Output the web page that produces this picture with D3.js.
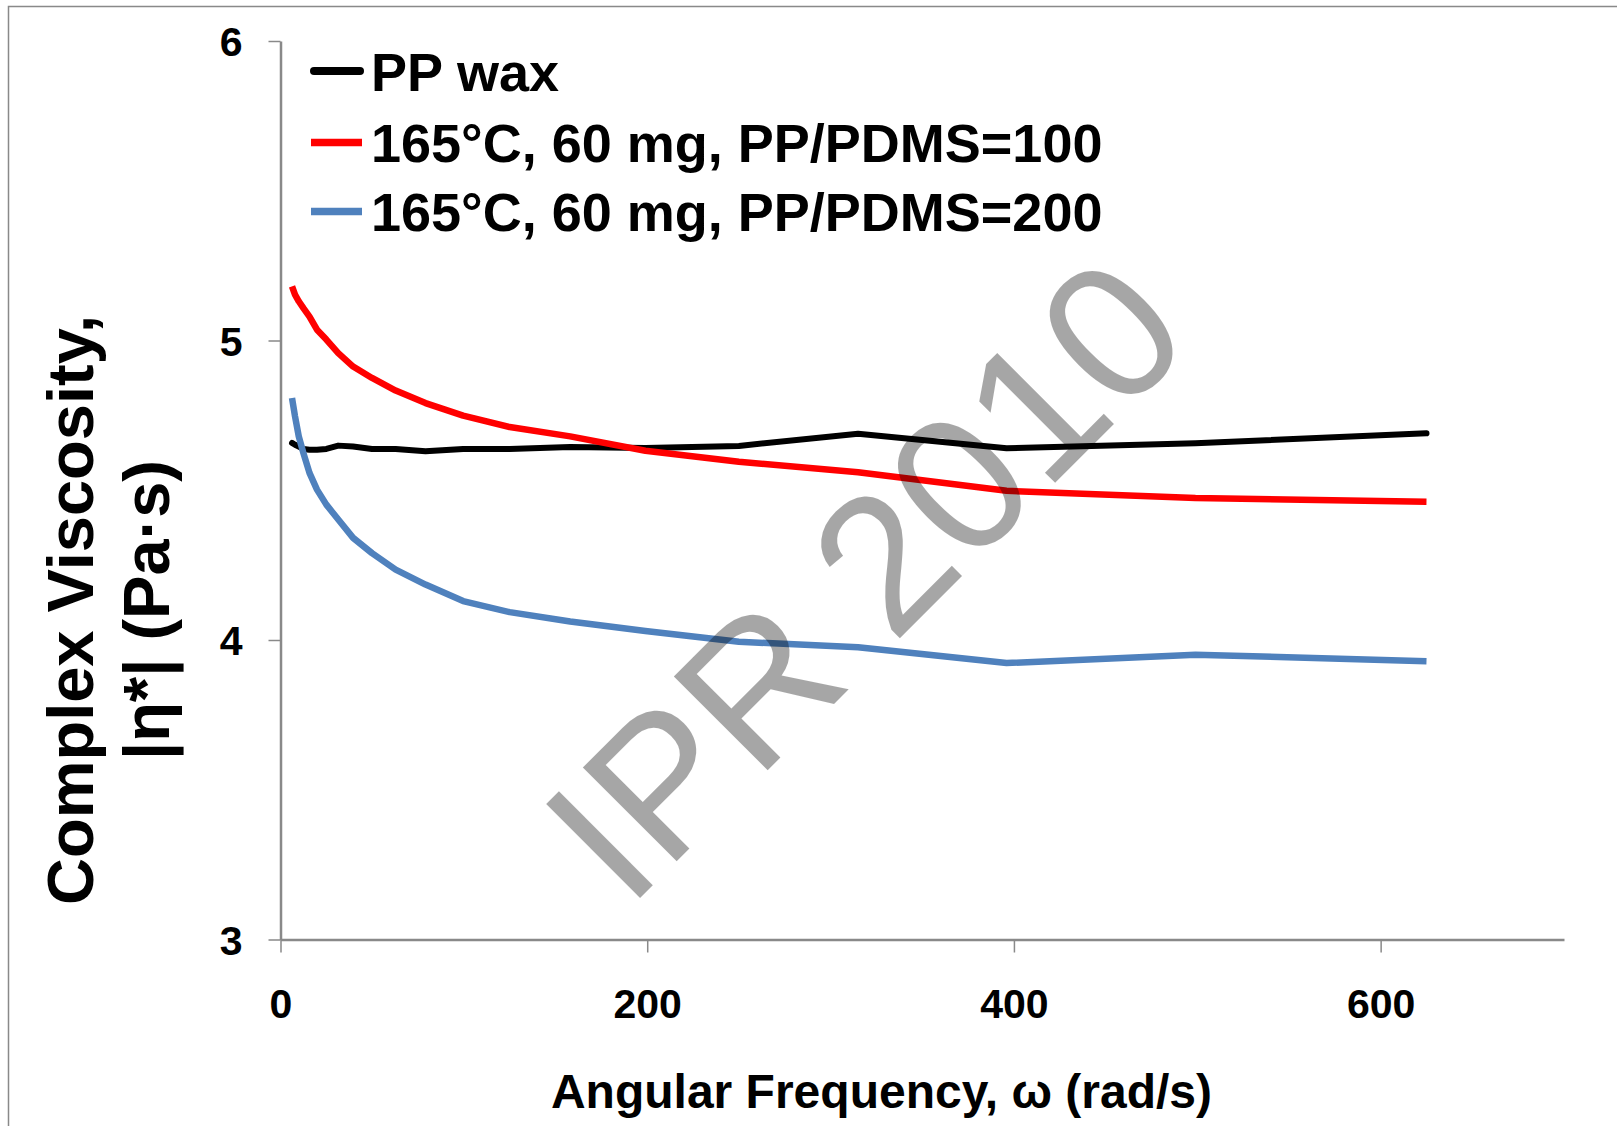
<!DOCTYPE html>
<html>
<head>
<meta charset="utf-8">
<script src="https://cdn.jsdelivr.net/npm/d3@7/dist/d3.min.js"></script>
<style>
  html, body { margin: 0; padding: 0; background: #fff; }
  svg { display: block; }
  text { font-family: "Liberation Sans", Arial, sans-serif; }
</style>
</head>
<body>
<svg id="chart" width="1617" height="1126"></svg>
<script>
// ---- data ----
const frequency = [6.28, 7.91, 9.96, 12.5, 15.8, 19.9, 25.0, 31.5, 39.6, 49.9, 62.8, 79.1, 99.6, 125, 158, 199, 250, 315, 396, 499, 625];
const ppWax    = [4.658, 4.652, 4.646, 4.638, 4.635, 4.635, 4.638, 4.649, 4.646, 4.638, 4.638, 4.630, 4.638, 4.638, 4.644, 4.641, 4.648, 4.689, 4.640, 4.657, 4.690];
const pdms100  = [5.181, 5.153, 5.131, 5.108, 5.080, 5.036, 5.003, 4.958, 4.913, 4.875, 4.833, 4.791, 4.749, 4.711, 4.680, 4.632, 4.595, 4.560, 4.498, 4.474, 4.462];
const pdms200  = [4.808, 4.747, 4.680, 4.624, 4.558, 4.502, 4.452, 4.402, 4.341, 4.290, 4.235, 4.185, 4.130, 4.093, 4.062, 4.030, 3.994, 3.976, 3.923, 3.951, 3.929];
const seriesNames = ["PP wax", "165°C, 60 mg, PP/PDMS=100", "165°C, 60 mg, PP/PDMS=200"];
const seriesColors = ["#000000", "#ff0000", "#4f81bd"];
const xTicks = [0, 200, 400, 600];
const yTicks = [3, 4, 5, 6];
const xTitle = "Angular Frequency, ω (rad/s)";
const yTitle1 = "Complex Viscosity,";
const yTitle2 = "|η*| (Pa·s)";
const watermark = "IPR 2010";

// ---- layout ----
const svg = d3.select("#chart");
const x = d3.scaleLinear().domain([0, 700]).range([280.5, 1564]);
const y = d3.scaleLinear().domain([3, 6]).range([939.5, 41]);
const axisColor = "#898989";

// outer border
svg.append("rect").attr("x", 8.5).attr("y", 6.5).attr("width", 1700).attr("height", 1200)
  .attr("fill", "none").attr("stroke", axisColor).attr("stroke-width", 1.5);

// axes
const yAxis = svg.append("g").attr("transform", `translate(${x(0)},0)`)
  .call(d3.axisLeft(y).tickValues(yTicks).tickFormat(d3.format("d")).tickSize(12).tickSizeOuter(0).tickPadding(26));
const xAxis = svg.append("g").attr("transform", `translate(0,${y(3)})`)
  .call(d3.axisBottom(x).tickValues(xTicks).tickFormat(d3.format("d")).tickSize(13).tickSizeOuter(0));
[yAxis, xAxis].forEach(g => {
  g.select(".domain").attr("stroke", axisColor).attr("stroke-width", 2.5);
  g.selectAll(".tick line").attr("stroke", axisColor).attr("stroke-width", 1.5);
  g.selectAll("text").attr("fill", "#000").style("font-size", "41px").style("font-weight", "bold")
    .style("font-family", '"Liberation Sans", Arial, sans-serif');
});
yAxis.selectAll("text").attr("dy", "0.36em");
xAxis.selectAll("text").attr("y", 78.5).attr("dy", 0);

// lines
const allSeries = [ppWax, pdms100, pdms200];
const line = d3.line().x(d => x(d[0])).y(d => y(d[1]));
allSeries.forEach((vals, i) => {
  svg.append("path")
    .datum(frequency.map((f, j) => [f, vals[j]]))
    .attr("fill", "none")
    .attr("stroke", seriesColors[i])
    .attr("stroke-width", i === 0 ? 6 : 6.5)
    .attr("stroke-linecap", i === 0 ? "round" : "butt")
    .attr("stroke-linejoin", "round")
    .attr("d", line);
});

// legend
const legendY = [71, 142.5, 211.5];
seriesNames.forEach((name, i) => {
  const g = svg.append("g");
  if (i === 0) {
    g.append("line").attr("x1", 314).attr("x2", 360).attr("y1", legendY[i]).attr("y2", legendY[i])
      .attr("stroke", seriesColors[i]).attr("stroke-width", 8).attr("stroke-linecap", "round");
  } else {
    g.append("line").attr("x1", 311).attr("x2", 362).attr("y1", legendY[i]).attr("y2", legendY[i])
      .attr("stroke", seriesColors[i]).attr("stroke-width", 7.5);
  }
  g.append("text").attr("x", 371).attr("y", legendY[i] + 19.5)
    .style("font-size", "54px").style("font-weight", "bold").attr("fill", "#000").text(name);
});

// axis titles
svg.append("text").attr("x", 881.5).attr("y", 1107.5).attr("text-anchor", "middle")
  .style("font-size", "48px").style("font-weight", "bold").attr("fill", "#000").text(xTitle);
const yt = svg.append("g").attr("transform", "translate(0,610) rotate(-90)");
yt.append("text").attr("x", 0).attr("y", 93).attr("text-anchor", "middle")
  .style("font-size", "65px").style("font-weight", "bold").attr("fill", "#000").text(yTitle1);
yt.append("text").attr("x", 0).attr("y", 169).attr("text-anchor", "middle")
  .style("font-size", "65px").style("font-weight", "bold").attr("fill", "#000").text(yTitle2);

// watermark
svg.append("text").attr("transform", "translate(912,626) rotate(-45)")
  .attr("text-anchor", "middle").style("font-size", "193px").attr("fill", "#000").attr("fill-opacity", 0.35)
  .text(watermark);
</script>
</body>
</html>
